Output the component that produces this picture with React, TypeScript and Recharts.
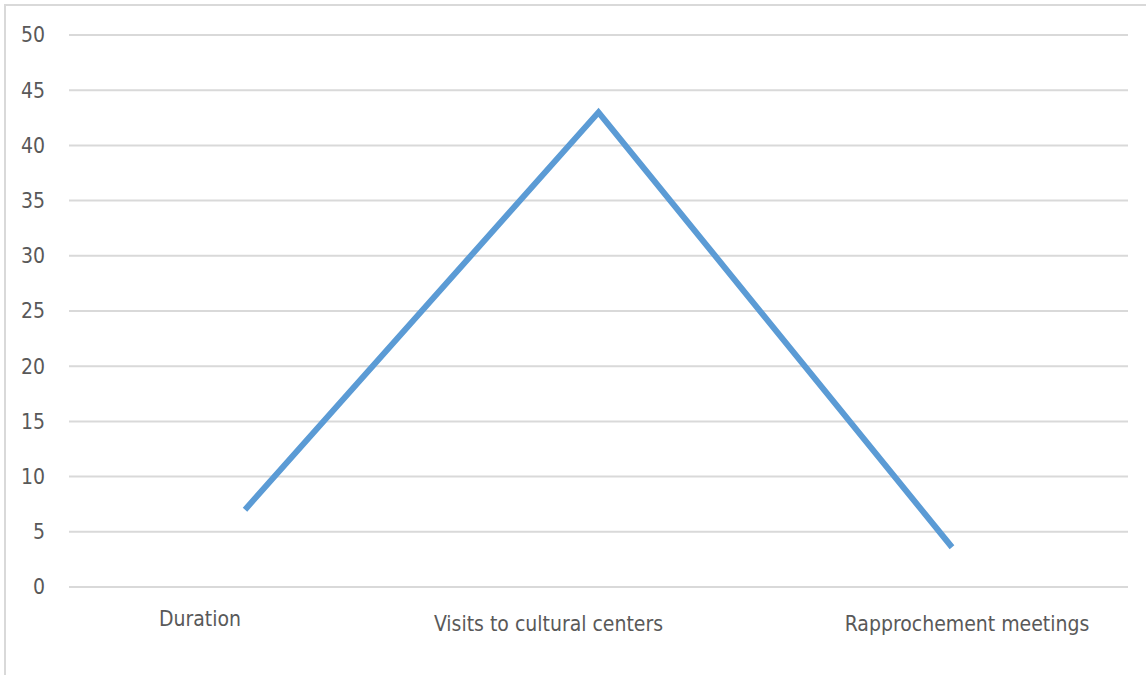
import { LineChart, Line, XAxis, YAxis, CartesianGrid } from 'recharts';

const categories = ['Duration', 'Visits to cultural centers', 'Rapprochement meetings'];
const values = [7, 43, 3.6];
const yTicks = [0, 5, 10, 15, 20, 25, 30, 35, 40, 45, 50];

const data = categories.map((name, i) => ({ name, value: values[i] }));

const FONT = '"DejaVu Sans Condensed", "DejaVu Sans", sans-serif';

// category labels are not centred under their points
const labelShift = [
  { dx: -45, dy: 31 },
  { dx: -50, dy: 36 },
  { dx: 15, dy: 36 },
];

function CategoryTick(props: any) {
  const { x, y, payload, index } = props;
  const s = labelShift[index] ?? { dx: 0, dy: 36 };
  return (
    <text
      x={x + s.dx}
      y={y + s.dy}
      textAnchor="middle"
      fill="#595959"
      fontSize={21}
      fontFamily={FONT}
      style={{ fontStretch: 'condensed' }}
    >
      {payload.value}
    </text>
  );
}

export default function App() {
  return (
    <div style={{ position: 'absolute', left: 0, top: 0, width: 1146, height: 675, overflow: 'hidden', background: '#fff' }}>
      <div
        style={{
          position: 'absolute',
          left: 4,
          top: 4,
          width: 1170,
          height: 700,
          border: '2px solid #d9d9d9',
        }}
      />
      <div style={{ position: 'absolute', left: 0, top: 0 }}>
        <LineChart width={1146} height={675} data={data} margin={{ top: 35, right: 18, bottom: 58, left: 0 }}>
          <CartesianGrid vertical={false} stroke="#d9d9d9" strokeWidth={2} />
          <XAxis
            dataKey="name"
            axisLine={false}
            tickLine={false}
            height={30}
            padding={{ left: 176, right: 176 }}
            tick={<CategoryTick />}
            interval={0}
          />
          <YAxis
            domain={[0, 50]}
            ticks={yTicks}
            width={69}
            axisLine={false}
            tickLine={false}
            tickSize={0}
            tickMargin={24}
            tick={{ fill: '#595959', fontSize: 21, fontFamily: FONT, style: { fontStretch: 'condensed' } }}
          />
          <Line
            type="linear"
            dataKey="value"
            stroke="#5b9bd5"
            strokeWidth={6}
            strokeLinejoin="miter"
            strokeLinecap="butt"
            dot={false}
            activeDot={false}
            isAnimationActive={false}
          />
        </LineChart>
      </div>
    </div>
  );
}
